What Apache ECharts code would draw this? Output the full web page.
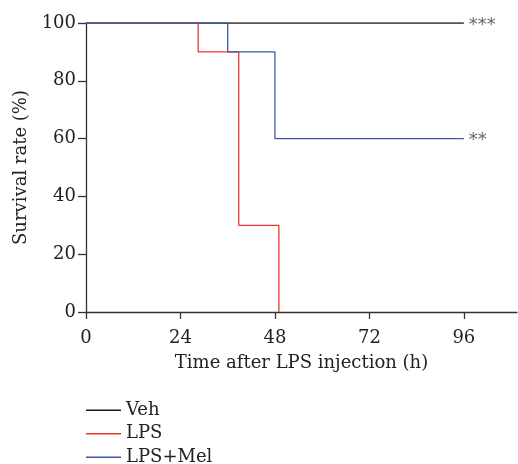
<!DOCTYPE html>
<html>
<head>
<meta charset="utf-8">
<script src="https://cdn.jsdelivr.net/npm/echarts@6/dist/echarts.min.js"></script>
<style>
    html, body { margin: 0; padding: 0; background: #fff; }
    #survivalChart { width: 518px; height: 464px; }
</style>
</head>
<body>
<div id="survivalChart"></div>
<script type="text/javascript">
    // 时间点 (h) 与存活率 (%)
    var vehTime = [0, 96];
    var vehRate = [100, 100];
    var lpsTime = [0, 28.5, 38.8, 49];
    var lpsRate = [100, 90, 30, 0];
    var melTime = [0, 36, 48, 96];
    var melRate = [100, 90, 60, 60];
    var xTicks = [0, 24, 48, 72, 96];
    var yTicks = [0, 20, 40, 60, 80, 100];
    var seriesNames = ['Veh', 'LPS', 'LPS+Mel'];
    var seriesColors = ['#1a1a1a', '#e8382f', '#3f56a8'];
    var endMarks = ['***', '', '**'];

    var fontFamily = '"DejaVu Serif", serif';

    function pairs(xs, ys) {
        var out = [];
        for (var i = 0; i < xs.length; i++) {
            out.push([xs[i], ys[i]]);
        }
        return out;
    }

    var chart = echarts.init(document.getElementById('survivalChart'));
    var lines = [pairs(vehTime, vehRate), pairs(lpsTime, lpsRate), pairs(melTime, melRate)];

    var series = [];
    for (var i = 0; i < lines.length; i++) {
        series.push({
            name: seriesNames[i],
            type: 'line',
            step: 'end',
            data: lines[i],
            symbol: 'none',
            animation: false,
            lineStyle: {color: seriesColors[i], width: 1.3},
            itemStyle: {color: seriesColors[i]},
            endLabel: {
                show: endMarks[i] !== '',
                formatter: (function (m) { return function () { return m; }; })(endMarks[i]),
                color: '#666',
                fontFamily: 'DejaVu Sans',
                fontSize: 18,
                distance: 5,
                offset: [0, 2]
            }
        });
    }

    var option = {
        animation: false,
        grid: {left: 86, right: 1, top: 23, bottom: 152, containLabel: false, outerBoundsMode: 'none'},
        legend: {
            orient: 'vertical',
            left: 86,
            top: 401,
            height: 100,
            padding: 0,
            itemWidth: 35,
            itemHeight: 14,
            itemGap: 5,
            icon: 'path://M0,6 L35,6 L35,7.3 L0,7.3 Z',
            textStyle: {fontFamily: fontFamily, fontSize: 18, lineHeight: 18.5, color: '#222'},
            data: seriesNames
        },
        xAxis: {
            type: 'value',
            min: 0,
            max: 109.5,
            name: 'Time after LPS injection (h)',
            nameLocation: 'middle',
            nameGap: 42,
            nameTextStyle: {fontFamily: fontFamily, fontSize: 18, color: '#222'},
            splitLine: {show: false},
            axisLine: {lineStyle: {color: '#333', width: 1.3}},
            axisTick: {show: true, length: 7, lineStyle: {color: '#333', width: 1.3}, customValues: xTicks},
            axisLabel: {fontFamily: fontFamily, fontSize: 18, color: '#222', margin: 17, customValues: xTicks}
        },
        yAxis: {
            type: 'value',
            min: 0,
            max: 100,
            interval: 20,
            name: 'Survival rate (%)',
            nameLocation: 'middle',
            nameGap: 51,
            nameTextStyle: {fontFamily: fontFamily, fontSize: 18, color: '#222'},
            splitLine: {show: false},
            axisLine: {show: true, lineStyle: {color: '#333', width: 1.3}},
            axisTick: {show: true, length: 8, lineStyle: {color: '#333', width: 1.3}, customValues: yTicks},
            axisLabel: {fontFamily: fontFamily, fontSize: 18, color: '#222', margin: 10, customValues: yTicks}
        },
        series: series
    };
    chart.setOption(option);
</script>
</body>
</html>
